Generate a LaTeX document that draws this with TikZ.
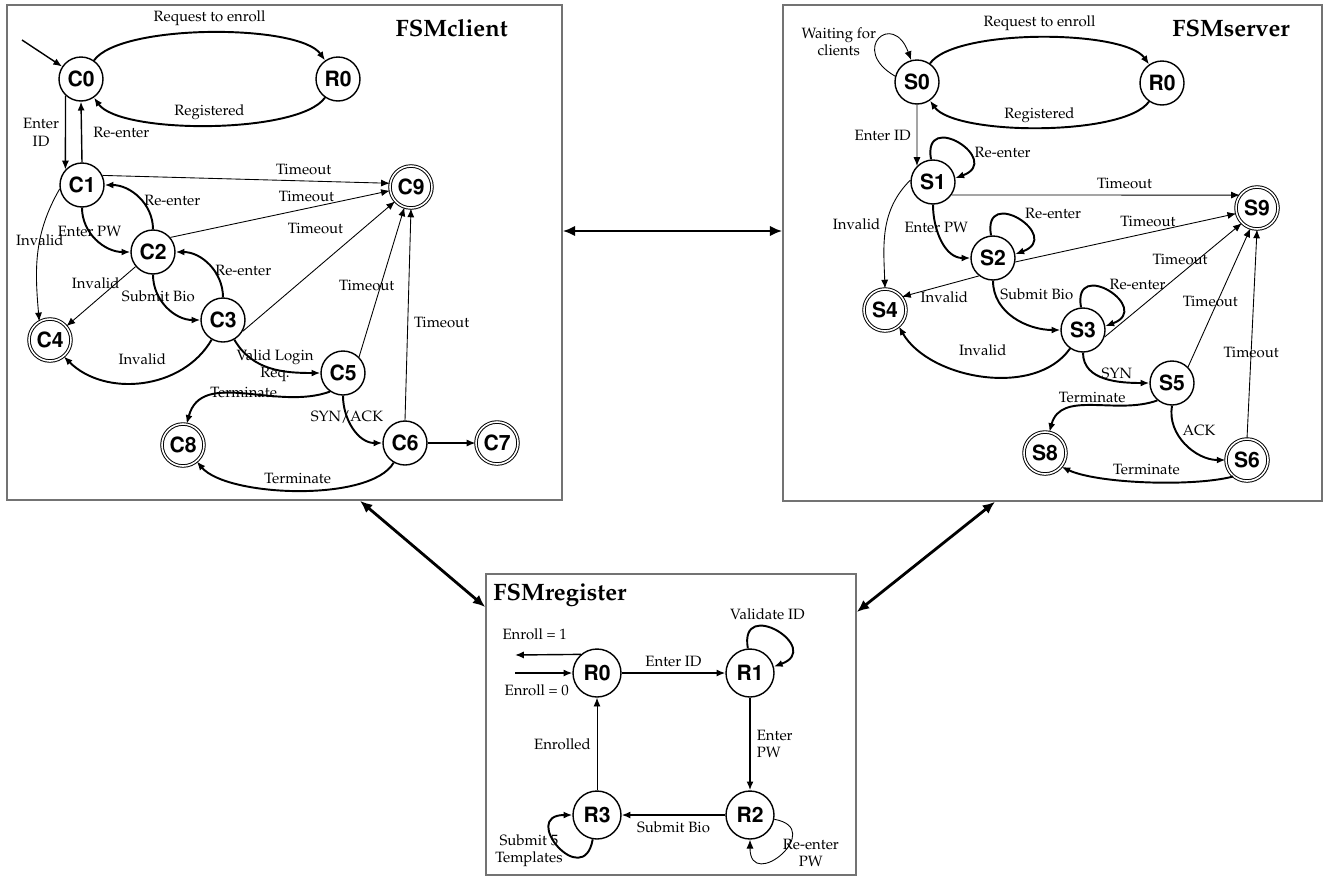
\documentclass[tikz,border=0pt]{standalone}
\usepackage[T1]{fontenc}
\usepackage{mathpazo}
\usepackage{tikz}
\usetikzlibrary{arrows.meta}
\usetikzlibrary{fit}
\newcommand{\statefont}{\fontsize{12}{13}\usefont{T1}{phv}{b}{n}}
\tikzset{state/.style={circle,draw,line width=0.8pt,minimum size=0.88cm,inner sep=0pt,font=\statefont},
 final/.style={state,double,double distance=0.9pt,line width=0.55pt,minimum size=0.84cm},
 panel/.style={draw=gray!90!black,line width=0.9pt,inner sep=0pt},
 title/.style={inner sep=0pt,font=\fontsize{13.5}{15}\selectfont\bfseries},
 thinlink/.style={-{Latex[length=5pt,width=4pt]},line width=0.5pt},
 medlink/.style={thinlink,line width=0.8pt},
 boldlink/.style={thinlink,line width=1.1pt},
 biarrow/.style={{Latex[length=7pt,width=6pt]}-{Latex[length=7pt,width=6pt]},line width=1.6pt},
 selfloop/.style={out=100,in=20,looseness=4.3},
 }

\begin{document}
\begin{tikzpicture}[x=0.02cm,y=0.02cm,font=\fontsize{8.5}{10}\selectfont]
\useasboundingbox (0,0) rectangle (1325,-877);

% FSMclient
\node[panel,fit={(7,-5) (562,-500)}] (client) {};
\node[title,anchor=east] (tclient) at (508,-28) {FSMclient};
\node[state] (c0) at (81,-79) {C0};
\node[state] (cr0) at (338,-79) {R0};
\node[state] (c1) at (82,-185) {C1};
\node[final] (c9) at (411,-187) {C9};
\node[state] (c2) at (153,-252) {C2};
\node[state] (c3) at (223,-320) {C3};
\node[final] (c4) at (50,-340) {C4};
\node[state] (c5) at (343,-373) {C5};
\node[state] (c6) at (405,-443) {C6};
\node[final] (c7) at (497,-443) {C7};
\node[final] (c8) at (183,-445) {C8};
\coordinate (cstart) at (22,-40);

\draw[medlink] (cstart) -- (c0);
\draw[boldlink] (c0.55) to[out=55,in=125,looseness=0.5] node[above]{Request to enroll} (cr0.125);
\draw[boldlink] (cr0.235) to[out=235,in=305,looseness=0.5] node[above=-1pt]{Registered} (c0.305);
\draw[medlink] (c0.227) -- node[left,align=center]{Enter\\ID} (c1.137);
\draw[medlink] (c1.north) -- node[right=3pt]{Re-enter} (c0.south);
\draw[thinlink] (c1.25) -- node[pos=0.7,above]{Timeout} (c9.170);
\draw[thinlink] (c2.40) -- node[pos=0.62,above]{Timeout} (c9.190);
\draw[thinlink] (c3.-30) -- node[pos=0.7,above left]{Timeout} (c9.222);
\draw[thinlink] (c5.45) -- node[pos=0.48,xshift=-8pt]{Timeout} (c9.252);
\draw[thinlink] (c6.north) -- node[pos=0.46,right]{Timeout} (c9.south);
\draw[boldlink] (c1.south) to[out=-90,in=180] node[pos=0.35]{Enter PW} (c2.west);
\draw[boldlink] (c2.north) to[out=90,in=0] node[pos=0.45,right=-2pt]{Re-enter} (c1.east);
\draw[boldlink] (c2.south) to[out=-90,in=180] node[pos=0.3]{Submit Bio} (c3.west);
\draw[boldlink] (c3.north) to[out=90,in=0] node[pos=0.4,right=-3pt]{Re-enter} (c2.east);
\draw[thinlink] (c1.190) to[out=240,in=95] node[pos=0.4]{Invalid} (c4.120);
\draw[thinlink] (c2.220) -- node[pos=0.4,xshift=-7pt,yshift=4pt]{Invalid} (c4.40);
\draw[boldlink] (c3.240) to[out=240,in=-45] node[above=6pt]{Invalid} (c4.-50);
\draw[boldlink] (c3.-60) to[out=-60,in=180] node[pos=0.55,yshift=2pt,align=center]{Valid Login\\Req.} (c5.west);
\draw[boldlink] (c5.235) to[out=200,in=75] node[pos=0.5,above=-6pt]{Terminate} (c8.80);
\draw[boldlink] (c5.south) to[out=-90,in=180] node[pos=0.3]{SYN/ACK} (c6.west);
\draw[medlink] (c6) -- (c7);
\draw[boldlink] (c6.240) to[out=240,in=-50,looseness=0.6] node[above]{Terminate} (c8.-50);

% FSMserver
\node[panel,fit={(783,-5) (1322,-501)}] (server) {};
\node[title,anchor=east] (tserver) at (1290,-28) {FSMserver};
\node[state] (s0) at (917,-82) {S0};
\node[state] (sr0) at (1162,-83) {R0};
\node[state] (s1) at (933,-182) {S1};
\node[final] (s9) at (1257,-208) {S9};
\node[state] (s2) at (993,-258) {S2};
\node[final] (s4) at (885,-310) {S4};
\node[state] (s3) at (1083,-330) {S3};
\node[state] (s5) at (1172,-383) {S5};
\node[final] (s6) at (1247,-460) {S6};
\node[final] (s8) at (1045,-453) {S8};

\draw[thinlink] (s0.165) to[out=150,in=110,looseness=6] node[pos=0.45,left=-3pt,align=center]{Waiting for\\clients} (s0.105);
\draw[boldlink] (s0.55) to[out=55,in=125,looseness=0.5] node[above]{Request to enroll} (sr0.125);
\draw[boldlink] (sr0.235) to[out=235,in=305,looseness=0.5] node[above=-1pt]{Registered} (s0.305);
\draw[thinlink] (s0.south) -- node[left]{Enter ID} (s1.135);
\draw[boldlink] (s1.95) to[selfloop] node[pos=0.65,right]{Re-enter} (s1.10);
\draw[thinlink] (s1.-35) -- node[pos=0.6,above]{Timeout} (s9.143);
\draw[boldlink] (s1.south) to[out=-90,in=180] node[pos=0.3]{Enter PW} (s2.west);
\draw[boldlink] (s2.95) to[selfloop] node[pos=0.55,above right=-2pt]{Re-enter} (s2.10);
\draw[thinlink] (s2.-10) -- node[pos=0.6,above]{Timeout} (s9.195);
\draw[thinlink] (s1.175) to[out=225,in=92] node[pos=0.45,left]{Invalid} (s4.north);
\draw[thinlink] (s2.232) -- node[pos=0.45,below]{Invalid} (s4.38);
\draw[boldlink] (s2.south) to[out=-90,in=180] node[pos=0.15,right=-1pt]{Submit Bio} (s3.west);
\draw[boldlink] (s3.95) to[selfloop] node[pos=0.5,above right=-3pt]{Re-enter} (s3.10);
\draw[thinlink] (s3.-18) -- node[pos=0.55,above=2pt]{Timeout} (s9.225);
\draw[thinlink] (s5.45) -- node[pos=0.47,xshift=-4pt]{Timeout} (s9.252);
\draw[thinlink] (s6.north) -- node[pos=0.41]{Timeout} (s9.south);
\draw[boldlink] (s3.235) to[out=235,in=-60,looseness=0.9] node[above=8pt]{Invalid} (s4.-50);
\draw[boldlink] (s3.south) to[out=-90,in=180] node[pos=0.35,right]{SYN} (s5.west);
\draw[boldlink] (s5.230) to[out=200,in=75] node[pos=0.5,above=-2pt]{Terminate} (s8.78);
\draw[boldlink] (s5.south) to[out=-100,in=180] node[pos=0.3,right]{ACK} (s6.west);
\draw[boldlink] (s6.230) to[out=195,in=-25,looseness=0.6] node[above]{Terminate} (s8.-40);

% FSMregister
\node[panel,fit={(486,-574) (856,-875)}] (register) {};
\node[title,anchor=west] (tregister) at (493,-595) {FSMregister};
\node[state,minimum size=0.96cm] (r0) at (597,-673) {R0};
\node[state,minimum size=0.96cm] (r1) at (750,-673) {R1};
\node[state,minimum size=0.96cm] (r2) at (750,-815) {R2};
\node[state,minimum size=0.96cm] (r3) at (597,-815) {R3};
\coordinate (eout) at (515,-655);
\coordinate (ein) at (515,-673);

\draw[medlink] (r0.131) -- node[pos=0.7,above=5pt]{Enroll = 1} (eout);
\draw[medlink] (ein) -- node[pos=0.38,below=3pt]{Enroll = 0} (r0.west);
\draw[medlink] (r0) -- node[above]{Enter ID} (r1);
\draw[boldlink] (r1.95) to[selfloop] node[pos=0.4,above]{Validate ID} (r1.15);
\draw[boldlink] (r1) -- node[right,align=left]{Enter\\PW} (r2);
\draw[medlink] (r2) -- node[below]{Submit Bio} (r3);
\draw[thinlink] (r3) -- node[left]{Enrolled} (r0);
\draw[boldlink] (r3.260) to[out=260,in=180,looseness=4.3] node[pos=0.45,left=-4pt,align=center]{Submit 5\\Templates} (r3.180);
\draw[thinlink] (r2.-10) to[out=-10,in=-90,looseness=4.3] node[pos=0.5,right=-3pt,align=center]{Re-enter\\PW} (r2.-90);

% links between the machines
\coordinate (ylink) at (0,-231);
\coordinate (xll) at (360,0);
\coordinate (yll) at (0,-607);
\coordinate (xrr) at (995,0);
\coordinate (yrr) at (0,-612);
\draw[biarrow] (client.east |- ylink) -- (server.west |- ylink);
\draw[biarrow] (client.south -| xll) -- (register.west |- yll);
\draw[biarrow] (server.south -| xrr) -- (register.east |- yrr);
\end{tikzpicture}
\end{document}
